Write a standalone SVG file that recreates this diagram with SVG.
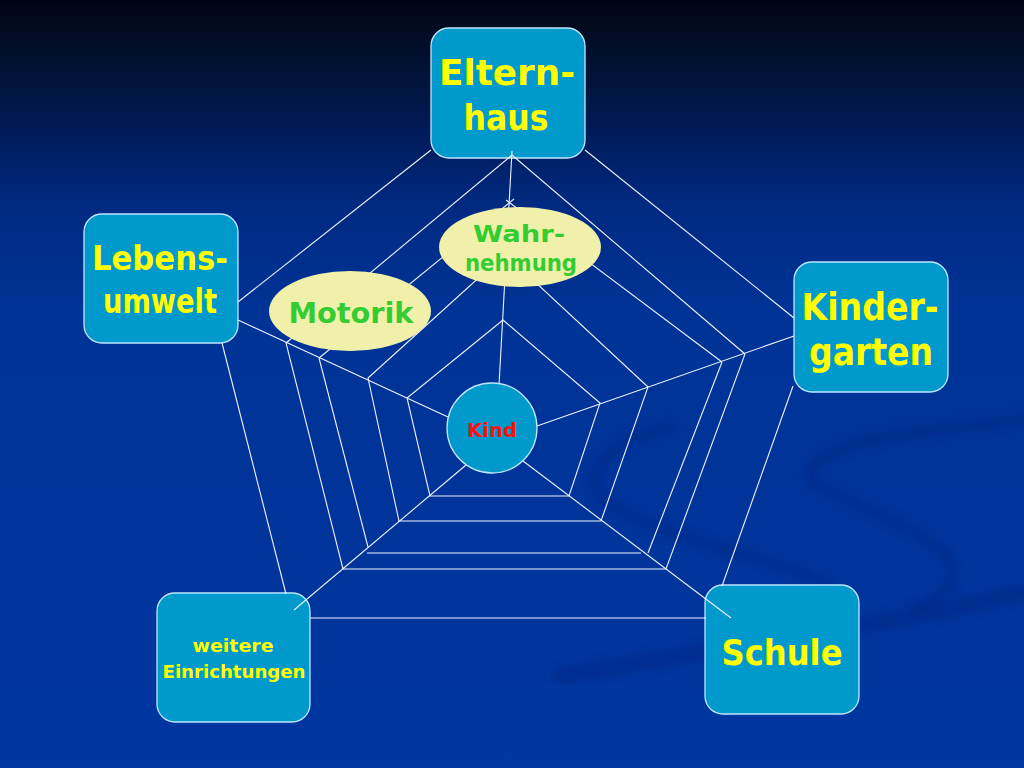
<svg xmlns="http://www.w3.org/2000/svg" width="1024" height="768" viewBox="0 0 1024 768">
  <defs>
    <linearGradient id="bg" x1="0" y1="0" x2="0" y2="1">
      <stop offset="0" stop-color="#000214"/>
      <stop offset="0.03" stop-color="#020b1e"/>
      <stop offset="0.1" stop-color="#011338"/>
      <stop offset="0.18" stop-color="#001c5c"/>
      <stop offset="0.27" stop-color="#002a82"/>
      <stop offset="0.4" stop-color="#003396"/>
      <stop offset="1" stop-color="#0036a0"/>
    </linearGradient>
    <filter id="soft" x="-10%" y="-10%" width="120%" height="120%">
      <feGaussianBlur stdDeviation="5"/>
    </filter>
  </defs>
  <style>
    .box { fill: #0099cc; stroke: #bfe6ff; stroke-width: 1.3; }
    .oval { fill: #f0f0aa; stroke: none; }
    .hub { fill: #0099cc; stroke: #bfe6ff; stroke-width: 1.3; }
    .lbl { font-family: "DejaVu Sans", "Liberation Sans", sans-serif; font-weight: bold; text-anchor: middle; }
    .yel { fill: #ffff00; }
    .grn { fill: #33cc33; }
    .red { fill: #ff1010; }
    .web { fill: none; stroke: #eef3ff; stroke-width: 1.1; stroke-linejoin: miter; }
    .swirl { fill: none; stroke: #00237a; stroke-linecap: round; opacity: 0.4; filter: url(#soft); }
  </style>

  <rect x="0" y="0" width="1024" height="768" fill="url(#bg)"/>

  <g id="background-swirl">
    <path class="swirl" stroke-width="10" d="M 670,427 C 633,436 598,452 594,482 C 600,510 660,530 727,550 C 780,565 810,575 830,585"/>
    <path class="swirl" stroke-width="10" d="M 1023,420 C 960,427 880,435 845,447 C 815,458 805,470 812,482 C 830,495 890,515 930,542 C 965,565 960,595 915,608"/>
    <path class="swirl" stroke-width="16" d="M 560,676 C 680,656 800,636 893,620 C 950,610 990,600 1024,592"/>
  </g>

  <g id="node-elternhaus">
    <rect class="box" x="431" y="28" width="154" height="130" rx="18"/>
    <text class="lbl yel" x="507" y="85" font-size="36" textLength="136" lengthAdjust="spacingAndGlyphs">Eltern-</text>
    <text class="lbl yel" x="506" y="130" font-size="36" textLength="85" lengthAdjust="spacingAndGlyphs">haus</text>
  </g>
  <g id="node-lebensumwelt">
    <rect class="box" x="84" y="214" width="154" height="129" rx="18"/>
    <text class="lbl yel" x="160" y="270" font-size="34" textLength="136" lengthAdjust="spacingAndGlyphs">Lebens-</text>
    <text class="lbl yel" x="160" y="313" font-size="34" textLength="114" lengthAdjust="spacingAndGlyphs">umwelt</text>
  </g>
  <g id="node-kindergarten">
    <rect class="box" x="794" y="262" width="154" height="130" rx="18"/>
    <text class="lbl yel" x="870" y="320" font-size="37" textLength="137" lengthAdjust="spacingAndGlyphs">Kinder-</text>
    <text class="lbl yel" x="871" y="365" font-size="37" textLength="124" lengthAdjust="spacingAndGlyphs">garten</text>
  </g>
  <g id="node-schule">
    <rect class="box" x="705" y="585" width="154" height="129" rx="18"/>
    <text class="lbl yel" x="782" y="665" font-size="36" textLength="121" lengthAdjust="spacingAndGlyphs">Schule</text>
  </g>
  <g id="node-weitere">
    <rect class="box" x="157" y="593" width="153" height="129" rx="18"/>
    <text class="lbl yel" x="233" y="652" font-size="18" textLength="81" lengthAdjust="spacingAndGlyphs">weitere</text>
    <text class="lbl yel" x="234" y="678" font-size="18" textLength="143" lengthAdjust="spacingAndGlyphs">Einrichtungen</text>
  </g>

  <g id="connectors">
    <!-- spokes -->
    <line class="web" x1="499" y1="385" x2="512" y2="151"/>
    <line class="web" x1="537" y1="426" x2="794" y2="336"/>
    <line class="web" x1="523" y1="461" x2="731" y2="618"/>
    <line class="web" x1="466" y1="465" x2="294" y2="610"/>
    <line class="web" x1="448" y1="417" x2="238" y2="320"/>
    <!-- ring 1 -->
    <polygon class="web" points="503,320 600,403 569,496 430,496 407,398"/>
    <!-- ring 2 -->
    <polygon class="web" points="505,254 648,387 601,521 399,521 368,378"/>
    <!-- ring 3 -->
    <line class="web" x1="319" y1="358" x2="514" y2="199"/>
    <line class="web" x1="506" y1="200" x2="722" y2="362"/>
    <line class="web" x1="722" y1="362" x2="648" y2="553"/>
    <line class="web" x1="641" y1="553" x2="367" y2="553"/>
    <line class="web" x1="368" y1="547" x2="319" y2="358"/>
    <!-- ring 4 -->
    <polygon class="web" points="286,343 512,155 745,354 666,569 343,569"/>
    <!-- outer ring -->
    <line class="web" x1="238" y1="302" x2="431" y2="150"/>
    <line class="web" x1="585" y1="150" x2="794" y2="318"/>
    <line class="web" x1="793" y1="386" x2="722" y2="586"/>
    <line class="web" x1="706" y1="618" x2="310" y2="618"/>
    <line class="web" x1="286" y1="594" x2="222" y2="343"/>
  </g>

  <g id="node-wahrnehmung">
    <ellipse class="oval" cx="520" cy="247" rx="81" ry="40"/>
    <text class="lbl grn" x="519" y="242" font-size="23" textLength="92" lengthAdjust="spacingAndGlyphs">Wahr-</text>
    <text class="lbl grn" x="521" y="271" font-size="23" textLength="112" lengthAdjust="spacingAndGlyphs">nehmung</text>
  </g>
  <g id="node-motorik">
    <ellipse class="oval" cx="350" cy="311" rx="81" ry="40"/>
    <text class="lbl grn" x="351" y="323" font-size="29" textLength="125" lengthAdjust="spacingAndGlyphs">Motorik</text>
  </g>
  <g id="node-kind">
    <circle class="hub" cx="492" cy="428" r="45"/>
    <text class="lbl red" x="492" y="437" font-size="20" textLength="50" lengthAdjust="spacingAndGlyphs">Kind</text>
  </g>
</svg>
